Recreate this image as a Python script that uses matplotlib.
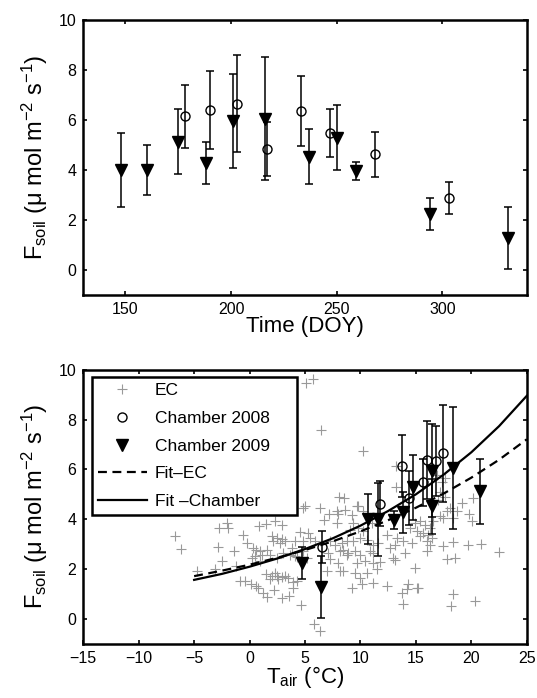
import numpy as np
import matplotlib
matplotlib.use('Agg')
import matplotlib.pyplot as plt

plt.rcParams['font.family'] = ['Liberation Sans', 'DejaVu Sans']
plt.rcParams['mathtext.default'] = 'regular'

# chamber 2008 (open circles)
doy_2008 = [178, 190, 203, 217, 233, 247, 268, 303]
tair_2008 = [13.78, 15.97, 17.42, 14.38, 16.8, 15.61, 11.76, 6.56]
fsoil_2008 = [6.14, 6.39, 6.65, 4.84, 6.35, 5.48, 4.62, 2.88]
err_2008 = [1.25, 1.57, 1.95, 1.08, 1.4, 0.95, 0.9, 0.65]

# chamber 2009 (filled triangles)
doy_2009 = [148, 160, 175, 188, 201, 216, 237, 250, 259, 294, 331]
tair_2009 = [11.61, 10.71, 20.8, 13.8, 16.49, 18.38, 16.45, 14.77, 13.03, 4.7, 6.41]
fsoil_2009 = [3.99, 4.0, 5.12, 4.28, 5.94, 6.05, 4.52, 5.28, 3.95, 2.23, 1.29]
err_2009 = [1.47, 1.0, 1.3, 0.83, 1.87, 2.45, 1.1, 1.3, 0.36, 0.64, 1.25]

# eddy covariance points (Tair, Fsoil)
ec_t = [-6.73, -6.22, -2.73, -1.98, -2.07, -2.82, -1.41, -2.52, -4.77, -3.1,
        -1.2, -0.57, -0.26, 0.88, 1.48, 2.29, 2.9, 1.99, 2.44, 2.9,
        3.19, 2.14, 2.74, 0.58, 1.09, 0.19, 0.94, 1.84, 2.44, 2.98,
        3.64, 4.25, 0.34, 0.94, 1.54, 0.49, -0.9, -0.4, 0.1, 0.6,
        1.5, 1.85, 2.0, 2.3, 2.45, 2.6, 2.9, 3.2, 3.5, 3.95,
        0.8, 1.2, 1.6, 2.2, 2.9, 3.6, 3.9, 4.25, 4.6, 4.85,
        5.0, 6.35, 7.15, 8.0, 8.6, 7.86, 9.21, 9.81, 8.1, 6.71,
        7.86, 4.55, 5.3, 4.1, 4.84, 5.45, 5.9, 7.25, 7.7, 8.31,
        8.76, 3.8, 4.1, 4.84, 5.15, 7.1, 8.16, 7.25, 8.0, 8.76,
        5.8, 6.35, 6.95, 8.16, 5.09, 5.75, 6.41, 10.2, 13.2, 13.2,
        8.52, 9.66, 10.26, 9.35, 9.06, 9.81, 10.26, 11.0, 9.35, 9.96,
        10.56, 11.16, 11.61, 8.45, 8.9, 9.51, 9.96, 10.86, 11.16, 9.66,
        10.41, 11.16, 11.76, 9.51, 9.96, 10.56, 11.46, 9.21, 10.11, 11.16,
        12.37, 8.4, 13.27, 13.87, 14.62, 15.37, 15.97, 16.43, 12.37, 12.67,
        13.12, 12.96, 13.12, 14.02, 14.92, 15.07, 13.72, 14.17, 13.87, 14.32,
        15.22, 15.97, 16.27, 14.47, 14.92, 15.37, 15.82, 16.27, 15.07, 15.67,
        16.12, 19.19, 20.18, 19.82, 20.03, 17.47, 18.08, 18.38, 18.68, 16.57,
        17.18, 17.78, 17.18, 17.63, 17.02, 17.33, 17.63, 16.88, 17.47, 18.32,
        19.73, 20.87, 17.78, 18.53, 22.53, 18.32, 18.14, 20.33]
ec_f = [3.34, 2.82, 3.64, 3.64, 3.84, 2.87, 2.74, 2.31, 1.93, 2.0,
        2.1, 3.38, 3.04, 3.71, 3.8, 3.91, 3.78, 3.31, 3.24, 3.22,
        3.11, 3.11, 3.04, 2.78, 2.58, 2.42, 2.31, 2.58, 2.44, 2.64,
        2.58, 2.47, 2.84, 2.71, 2.78, 2.51, 1.52, 1.52, 1.4, 1.3,
        1.78, 1.6, 1.72, 1.84, 1.7, 1.58, 1.66, 1.72, 1.62, 1.48,
        1.24, 1.02, 0.88, 1.15, 0.84, 0.92, 1.24, 1.51, 0.55, 4.46,
        4.51, 4.45, 4.2, 4.2, 4.35, 4.31, 4.18, 4.51, 4.91, 3.97,
        3.84, 3.5, 3.44, 3.11, 3.11, 3.24, 3.13, 3.11, 2.98, 3.04,
        3.13, 2.84, 2.51, 2.71, 2.44, 2.64, 2.71, 2.38, 2.24, 2.58,
        -0.2, -0.5, 1.91, 1.91, 9.48, 9.64, 7.58, 6.75, 6.15, 5.28,
        4.84, 4.51, 4.31, 3.84, 3.58, 3.64, 3.51, 3.84, 3.11, 3.24,
        3.18, 2.98, 3.04, 2.78, 2.64, 2.71, 2.58, 2.71, 2.64, 2.24,
        2.31, 2.24, 2.28, 1.84, 1.64, 1.84, 1.98, 1.24, 1.38, 1.44,
        1.31, 1.91, 3.24, 3.11, 3.04, 3.31, 3.11, 3.24, 3.38, 2.84,
        2.98, 2.44, 2.34, 2.64, 2.04, 1.24, 1.04, 1.18, 0.58, 1.38,
        1.24, 2.71, 2.98, 3.64, 3.84, 3.91, 3.78, 3.64, 3.51, 3.44,
        3.38, 4.67, 4.87, 4.2, 3.94, 4.04, 4.44, 4.04, 4.31, 3.91,
        4.11, 4.31, 5.11, 4.91, 4.78, 5.51, 5.64, 5.78, 2.91, 3.08,
        2.95, 3.0, 2.38, 2.44, 2.68, 1.0, 0.5, 0.71]

# fitted curves
fit_t = [-5, -2.5, 0, 2.5, 5, 7.5, 10, 12.5, 15, 17.5, 20, 22.5, 25]
fit_ec = [1.71, 1.93, 2.17, 2.45, 2.76, 3.11, 3.51, 3.96, 4.46, 5.03, 5.67, 6.39, 7.21]
fit_chamber = [1.56, 1.80, 2.09, 2.42, 2.80, 3.23, 3.74, 4.33, 5.00, 5.79, 6.69, 7.74, 8.96]

fig = plt.figure(figsize=(5.37, 6.98), dpi=100)
ax1 = fig.add_axes([0.155, 0.577, 0.826, 0.395])
ax2 = fig.add_axes([0.155, 0.078, 0.826, 0.392])

ylab = 'F$_{soil}$ (\u03bc mol m$^{-2}$ s$^{-1}$)'


def style(ax):
    for s in ax.spines.values():
        s.set_linewidth(1.8)
    ax.tick_params(direction='in', top=True, right=True, length=3, width=1.2,
                   labelsize=11.5, pad=5)
    ax.set_ylim(-1, 10)
    ax.set_yticks([0, 2, 4, 6, 8, 10])
    ax.set_ylabel(ylab, fontsize=17, labelpad=6)


# top panel: time series
ax1.errorbar(doy_2009, fsoil_2009, yerr=err_2009, fmt='none', ecolor='black',
             elinewidth=1.1, capsize=3, capthick=1.1)
ax1.plot(doy_2009, fsoil_2009, 'v', color='black', ms=8.5)
ax1.errorbar(doy_2008, fsoil_2008, yerr=err_2008, fmt='none', ecolor='black',
             elinewidth=1.1, capsize=3, capthick=1.1)
ax1.plot(doy_2008, fsoil_2008, 'o', mfc='none', mec='black', ms=6.5, mew=1)
ax1.set_xlim(130, 340)
ax1.set_xticks([150, 200, 250, 300])
style(ax1)
ax1.set_xlabel('Time (DOY)', fontsize=16, labelpad=-1)

# bottom panel: temperature response
ec_line, = ax2.plot(ec_t, ec_f, '+', color='#999999', ms=6.5, mew=0.8)
fe_line, = ax2.plot(fit_t, fit_ec, color='black', lw=1.6, ls=(0, (4, 2.5)))
fc_line, = ax2.plot(fit_t, fit_chamber, color='black', lw=1.6)
ax2.errorbar(tair_2009, fsoil_2009, yerr=err_2009, fmt='none', ecolor='black',
             elinewidth=1.1, capsize=3, capthick=1.1)
c9_line, = ax2.plot(tair_2009, fsoil_2009, 'v', color='black', ms=8.5)
ax2.errorbar(tair_2008, fsoil_2008, yerr=err_2008, fmt='none', ecolor='black',
             elinewidth=1.1, capsize=3, capthick=1.1)
c8_line, = ax2.plot(tair_2008, fsoil_2008, 'o', mfc='none', mec='black',
                    ms=6.5, mew=1)
ax2.set_xlim(-15, 25)
ax2.set_xticks([-15, -10, -5, 0, 5, 10, 15, 20, 25])
style(ax2)
ax2.set_xlabel('T$_{air}$ (\u00b0C)', fontsize=16, labelpad=-1)

leg = ax2.legend([ec_line, c8_line, c9_line, fe_line, fc_line],
                 ['EC', 'Chamber 2008', 'Chamber 2009', 'Fit\u2013EC',
                  'Fit \u2013Chamber'],
                 loc='upper left', bbox_to_anchor=(0.02, 0.974, 0.462, 0.0),
                 mode='expand', fontsize=12.5, frameon=True, fancybox=False,
                 framealpha=1, edgecolor='black', handlelength=2.8,
                 handletextpad=0.45, labelspacing=0.72, borderpad=0.35,
                 borderaxespad=0.0)
leg.get_frame().set_linewidth(1.8)

fig.savefig('out.png', dpi=100)
